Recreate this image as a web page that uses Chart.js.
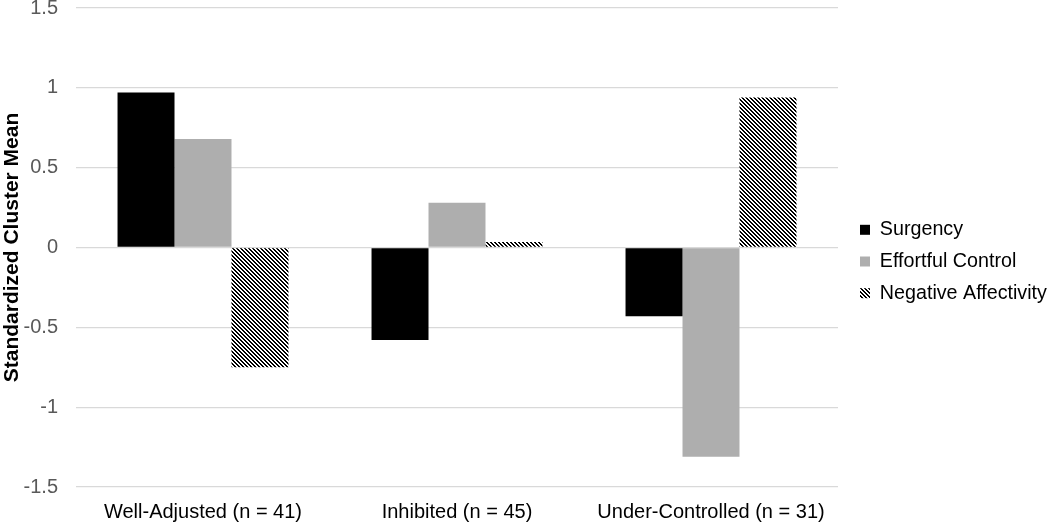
<!DOCTYPE html>
<html>
<head>
<meta charset="utf-8">
<script src="https://cdn.jsdelivr.net/npm/chart.js@4.4.1/dist/chart.umd.min.js"></script>
<style>
  html, body { margin: 0; padding: 0; background: #fff; }
  #wrap { width: 1050px; height: 523px; position: relative; }
</style>
</head>
<body>
<div id="wrap"><canvas id="chart"></canvas></div>
<script>
// data
const clusters = ['Well-Adjusted (n = 41)', 'Inhibited (n = 45)', 'Under-Controlled (n = 31)'];
const surgency = [0.97, -0.58, -0.43];
const effortfulControl = [0.68, 0.28, -1.31];
const negativeAffectivity = [-0.75, 0.035, 0.94];
const yTicks = [1.5, 1, 0.5, 0, -0.5, -1, -1.5];

// diagonal black/white hatch like the Excel "wide downward diagonal"
function makeHatch() {
  const c = document.createElement('canvas');
  c.width = 4;
  c.height = 4;
  const g = c.getContext('2d');
  g.fillStyle = '#fff';
  g.fillRect(0, 0, 4, 4);
  g.fillStyle = '#000';
  for (let y = 0; y < 4; y++) {
    for (let x = 0; x < 4; x++) {
      const k = ((x - y) % 4 + 4) % 4;
      if (k === 0 || k === 1) g.fillRect(x, y, 1, 1);
    }
  }
  return g.createPattern(c, 'repeat');
}

const hatch = makeHatch();
const font = "'Liberation Sans', Arial, sans-serif";

// legend sits a bit away from the plot, like the original
const legendGap = {
  id: 'legendGap',
  beforeInit(chart) {
    const legend = chart.legend;
    const fit = legend.fit;
    legend.fit = function () {
      fit.call(this);
      this.width = 212;
    };
  },
  afterLayout(chart) {
    chart.legend.left += 10;
    chart.legend.right += 10;
  },
};

new Chart(document.getElementById('chart'), {
  type: 'bar',
  data: {
    labels: clusters,
    datasets: [
      { label: 'Surgency', data: surgency, backgroundColor: '#000000' },
      { label: 'Effortful Control', data: effortfulControl, backgroundColor: '#aeaeae' },
      { label: 'Negative Affectivity', data: negativeAffectivity, backgroundColor: hatch },
    ],
  },
  plugins: [legendGap],
  options: {
    responsive: true,
    maintainAspectRatio: false,
    animation: false,
    datasets: {
      bar: { categoryPercentage: 0.673, barPercentage: 1.0, borderWidth: 0 },
    },
    layout: { padding: 0 },
    plugins: {
      tooltip: { enabled: false },
      legend: {
        position: 'right',
        labels: {
          color: '#000',
          font: { family: font, size: 19.7 },
          boxWidth: 10,
          boxHeight: 10,
          padding: 12,
        },
      },
    },
    scales: {
      x: {
        grid: { display: false },
        border: { display: false },
        ticks: { color: '#000', font: { family: font, size: 20 }, padding: 5 },
        afterFit: s => { s.paddingLeft = 0; s.paddingRight = 0; s.height = 36; },
      },
      y: {
        min: -1.5,
        max: 1.5,
        afterBuildTicks: axis => { axis.ticks = yTicks.map(v => ({ value: v })); },
        afterFit: s => { s.width = 76; s.paddingTop = 8; s.paddingBottom = 8; },
        grid: { color: '#d9d9d9', lineWidth: 1.3, drawTicks: false },
        border: { display: false },
        ticks: {
          color: '#595959',
          font: { family: font, size: 20 },
          padding: 18,
          callback: v => String(v),
        },
        title: {
          display: true,
          text: 'Standardized Cluster Mean',
          color: '#000',
          font: { family: font, size: 21, weight: 'bold' },
          padding: 0,
        },
      },
    },
  },
});
</script>
</body>
</html>
